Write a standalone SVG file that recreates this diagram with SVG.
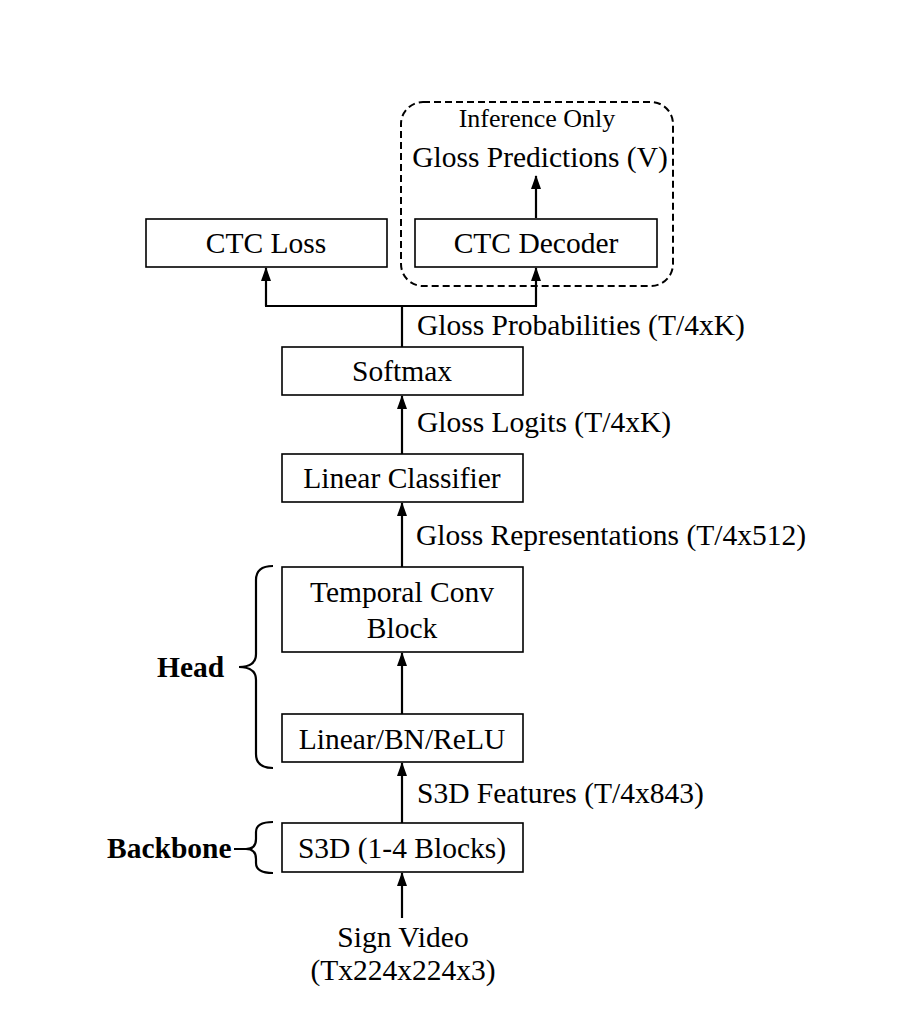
<svg xmlns="http://www.w3.org/2000/svg" width="898" height="1023" viewBox="0 0 898 1023">
<style>
  .box { fill: #fff; stroke: #000; stroke-width: 1.6; }
  .t { font-family: "Liberation Serif", "Times New Roman", serif; font-size: 29.5px; fill: #000; }
  .c { text-anchor: middle; }
  .b { font-weight: bold; }
  .line { fill: none; stroke: #000; stroke-width: 2.2; }
  .arr { fill: none; stroke: #000; stroke-width: 2.2; marker-end: url(#ah); }
</style>
<defs>
  <marker id="ah" markerUnits="userSpaceOnUse" markerWidth="14" markerHeight="10" viewBox="0 0 14 10" refX="13" refY="5" orient="auto">
    <path d="M0,0 L14,5 L0,10 Z" fill="#000"/>
  </marker>
</defs>
<rect width="898" height="1023" fill="#fff"/>

<g id="connectors">
  <path class="line" d="M402,347 L402,306 M265,306 L537,306"/>
  <line class="arr" x1="266" y1="306" x2="266" y2="268"/>
  <line class="arr" x1="536" y1="306" x2="536" y2="268"/>
  <line class="arr" x1="536" y1="218" x2="536" y2="176"/>
  <line class="arr" x1="402" y1="454" x2="402" y2="396"/>
  <line class="arr" x1="402" y1="567" x2="402" y2="503"/>
  <line class="arr" x1="402" y1="714" x2="402" y2="653"/>
  <line class="arr" x1="402" y1="823" x2="402" y2="763"/>
  <line class="arr" x1="402" y1="918" x2="402" y2="873"/>
</g>

<g id="inference-group">
  <rect x="401" y="102" width="272" height="184" rx="22" fill="none" stroke="#000" stroke-width="2" stroke-dasharray="7,4"/>
  <text class="t c" x="537" y="127" style="font-size:26px">Inference Only</text>
  <text class="t c" x="540" y="167">Gloss Predictions (V)</text>
</g>

<g id="ctc-loss">
  <rect class="box" x="146" y="219" width="241" height="48"/>
  <text class="t c" x="266" y="253">CTC Loss</text>
</g>
<g id="ctc-decoder">
  <rect class="box" x="415" y="219" width="242" height="48"/>
  <text class="t c" x="536" y="253">CTC Decoder</text>
</g>

<g id="softmax">
  <rect class="box" x="282" y="347" width="241" height="48"/>
  <text class="t c" x="402" y="381">Softmax</text>
</g>
<text class="t" x="417" y="335">Gloss Probabilities (T/4xK)</text>

<g id="linear-classifier">
  <rect class="box" x="282" y="454" width="241" height="48"/>
  <text class="t c" x="402" y="488">Linear Classifier</text>
</g>
<text class="t" x="417" y="432">Gloss Logits (T/4xK)</text>

<g id="temporal-conv">
  <rect class="box" x="282" y="567" width="241" height="85"/>
  <text class="t c" x="402" y="602">Temporal Conv</text>
  <text class="t c" x="402" y="638">Block</text>
</g>
<text class="t" x="416" y="545">Gloss Representations (T/4x512)</text>

<g id="linear-bn-relu">
  <rect class="box" x="282" y="714" width="241" height="48"/>
  <text class="t c" x="402" y="749">Linear/BN/ReLU</text>
</g>
<text class="t" x="417" y="803">S3D Features (T/4x843)</text>

<g id="s3d">
  <rect class="box" x="282" y="823" width="241" height="49"/>
  <text class="t c" x="402" y="858">S3D (1-4 Blocks)</text>
</g>

<g id="sign-video">
  <text class="t c" x="403" y="947">Sign Video</text>
  <text class="t c" x="403" y="980">(Tx224x224x3)</text>
</g>

<g id="head-brace">
  <path class="line" d="M273,566 Q256,566 256,580 L256,654 Q256,667 239,667 Q256,667 256,680 L256,754 Q256,768 273,768"/>
  <text class="t b" x="157" y="677">Head</text>
</g>
<g id="backbone-brace">
  <path class="line" d="M273,822 Q256,822 256,832 L256,839 Q256,849 246,849 L234,849 M246,849 Q256,849 256,859 L256,863 Q256,873 273,873"/>
  <text class="t b" x="107" y="858">Backbone</text>
</g>
</svg>
